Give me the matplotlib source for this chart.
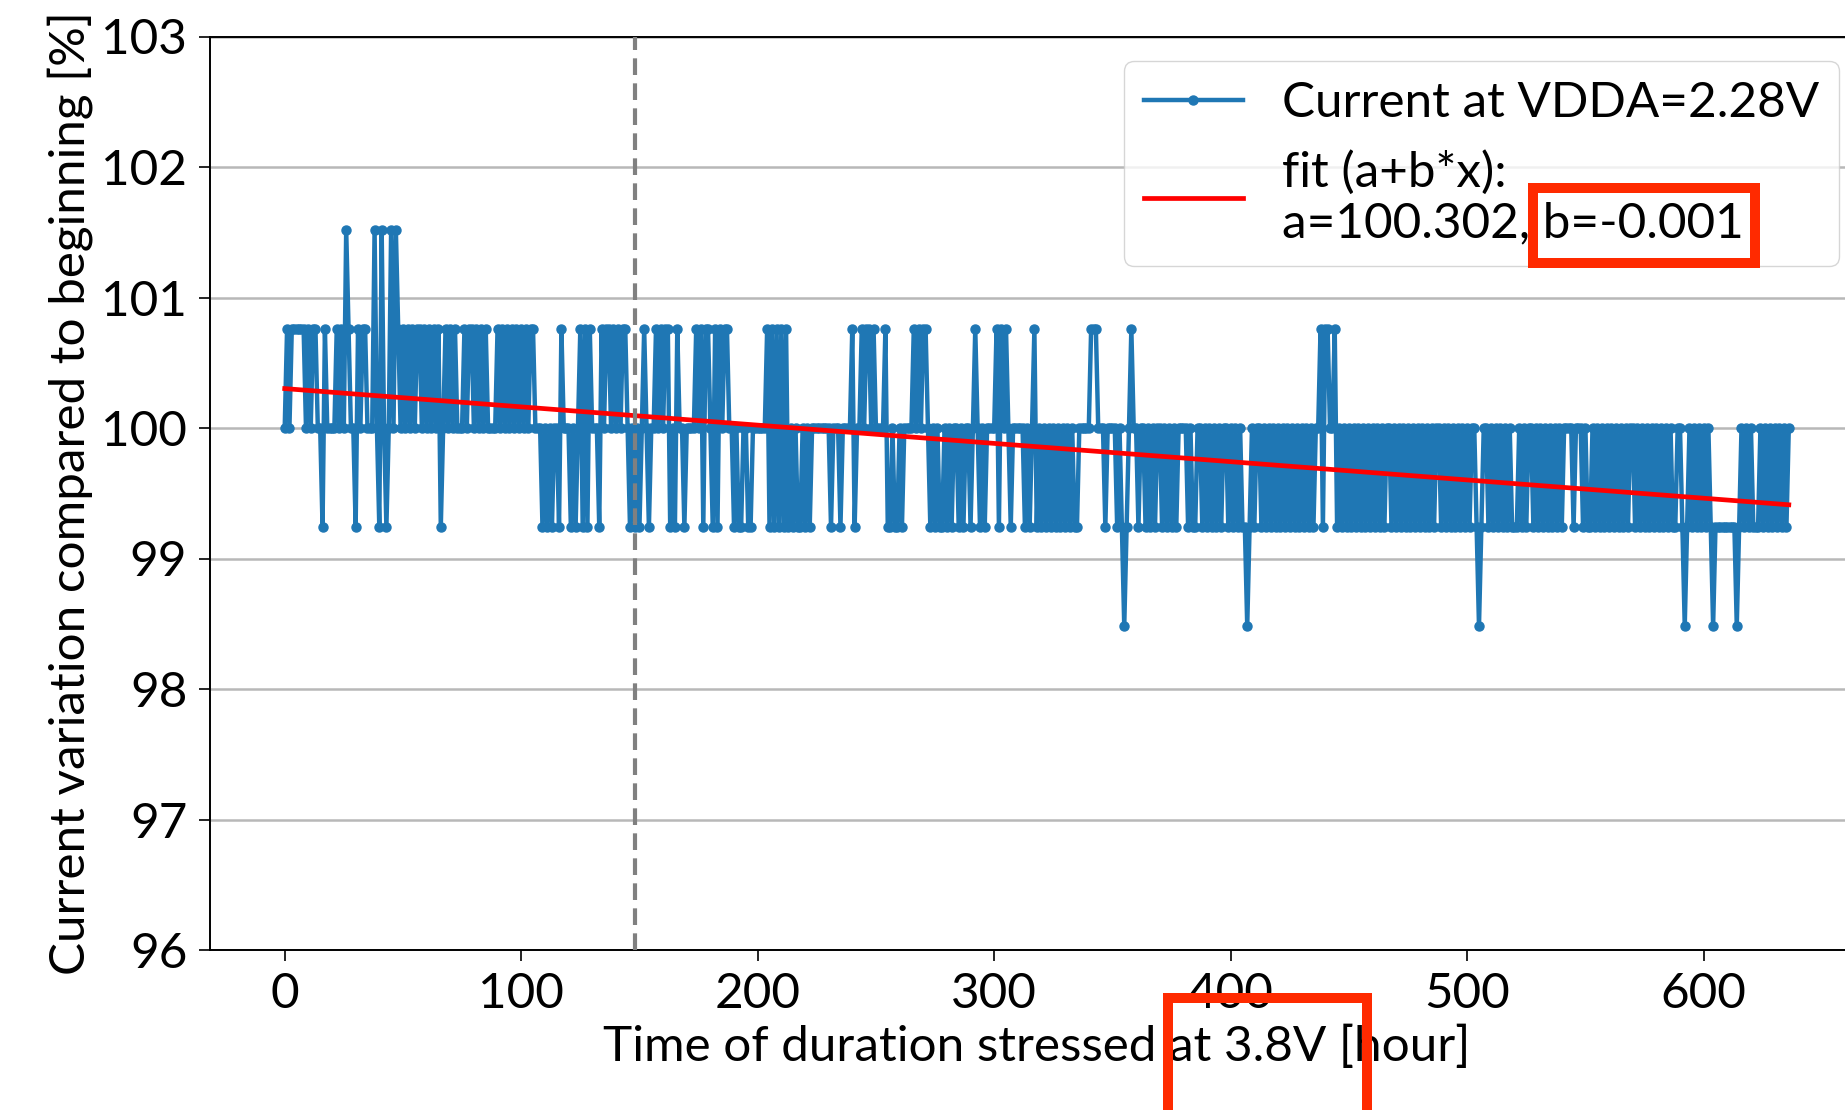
import matplotlib
matplotlib.use("Agg")
import matplotlib.pyplot as plt
from matplotlib.patches import Rectangle
import numpy as np

# measured current, quantised: code -> level [%]
levels = [98.48, 99.24, 100.0, 100.76, 101.52]
# one code per hour, 10 hours per chunk
level_codes = [
    "2323333332", "3233221322", "2232324322", "1323322242", "1421242432",
    "3232323323", "2323231232", "3232223233", "2323232222", "3232323232",
    "3232332221", "2121221322", "2121231313", "2221323323", "2323321212",
    "1232122323", "2331213221", "2222323133", "2131323322", "1211221122",
    "2222313131", "3131212112", "1212222222", "2122212222", "3122323323",
    "2222311211", "2122223232", "3321212112", "1212212122", "1232121222",
    "2313232122", "2221212312", "1212121212", "1212112222", "2333222122",
    "2212101232", "2122121212", "2121212122", "2212112212", "1212121221",
    "2121211012", "1221212121", "2121212121", "2121212231", "3322312121",
    "2121212121", "2121212212", "1212121212", "1212121221", "2121212121",
    "2122101221", "2121212121", "1121212212", "1212121212", "1222212221",
    "2112121212", "1212121212", "2121212121", "2121212112", "2101212121",
    "2121011111", "1111012121", "2111212121", "2121212",
]
fit_a = 100.302
fit_b = -0.0014
stress_start = 148  # hour of the dashed marker

codes = "".join(level_codes)
current = np.array([levels[int(c)] for c in codes])
hours = np.arange(len(current))

plt.rcParams['font.family'] = ['Lato', 'DejaVu Sans']
plt.rcParams['font.size'] = 35.6

W, H = 1845, 1110
fig = plt.figure(figsize=(W / 100, H / 100), dpi=100)
ax = fig.add_axes([209.5 / W, 1 - 950 / H, (1864 - 209.5) / W, (950 - 36.5) / H])

ax.plot(hours, current, '-o', color='#1f77b4', lw=3.2, ms=6.5, zorder=3,
        label='Current at VDDA=2.28V')
ax.plot(hours, fit_a + fit_b * hours, color='red', lw=3.4, zorder=4,
        label='fit (a+b*x):\na=%.3f, b=%.3f' % (fit_a, fit_b))
ax.axvline(stress_start, color='gray', lw=3, dashes=(4, 2), zorder=5)

ax.set_ylim(96, 103)
ax.set_xticks(np.arange(0, 700, 100))
ax.set_yticks(np.arange(96, 104, 1))
ax.grid(axis='y', color='#b8b8b8', lw=1.8)
ax.set_axisbelow(True)
ax.tick_params(length=8, width=1.2, pad=8)
for s in ax.spines.values():
    s.set_linewidth(1.4)

ax.set_xlabel('Time of duration stressed at 3.8V [hour]', labelpad=6)
ax.set_ylabel('Current variation compared to beginning [%]', labelpad=6)
ax.legend(loc='upper right')

# red highlight boxes (pixel coords of the picture)
def box(x0, y0, x1, y1):
    fig.add_artist(Rectangle((x0 / W, 1 - y1 / H), (x1 - x0) / W, (y1 - y0) / H,
                             transform=fig.transFigure, fill=False,
                             ec='#ff2a00', lw=7.2, zorder=10))

box(1533, 188, 1755, 263)
box(1168, 998, 1367, 1125)

fig.savefig('out.png', dpi=100)
